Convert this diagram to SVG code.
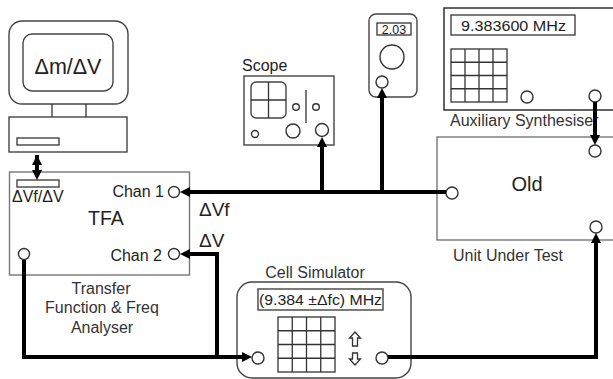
<svg xmlns="http://www.w3.org/2000/svg" width="613" height="379" viewBox="0 0 613 379">
<style>
text{font-family:"Liberation Sans",Arial,sans-serif;fill:#222}
.box{fill:#fff;stroke:#444;stroke-width:1.4}
.lbox{fill:#fff;stroke:#777;stroke-width:1.4}
.thin{fill:none;stroke:#333;stroke-width:1.3}
.port{fill:#fff;stroke:#333;stroke-width:1.4}
.wire{fill:none;stroke:#000;stroke-width:4;stroke-linejoin:miter}
.lbl{font-size:16px;fill:#333}
</style>
<defs>
<marker id="ah" viewBox="0 0 10 10" refX="0" refY="5" markerWidth="10" markerHeight="10" markerUnits="userSpaceOnUse" orient="auto">
<path d="M0,0 L10,5 L0,10 z" fill="#000"/>
</marker>
<marker id="ahs" viewBox="0 0 10 10" refX="10" refY="5" markerWidth="10" markerHeight="10" markerUnits="userSpaceOnUse" orient="auto-start-reverse">
<path d="M0,0 L10,5 L0,10 z" fill="#000"/>
</marker>
</defs>

<g id="computer">
<rect class="box" x="9" y="21" width="119" height="83" rx="13"/>
<rect class="box" x="23" y="34" width="90" height="57" rx="9"/>
<text x="68" y="74" font-size="21.5" text-anchor="middle">Δm/ΔV</text>
<line class="thin" x1="52" y1="104" x2="52" y2="117"/>
<line class="thin" x1="86" y1="104" x2="86" y2="117"/>
<rect class="box" x="9" y="117" width="118" height="35"/>
<rect class="box" x="17" y="138" width="42" height="7"/>
</g>

<g id="tfa">
<rect class="lbox" x="9.5" y="172" width="180" height="103"/>
<rect class="box" x="17" y="180" width="42" height="7"/>
<text x="12" y="202" font-size="16">ΔVf/ΔV</text>
<text x="164" y="197" font-size="16" text-anchor="end">Chan 1</text>
<circle class="port" cx="174" cy="192" r="5.5"/>
<text x="88" y="225" font-size="19.5">TFA</text>
<text x="162" y="261" font-size="16" text-anchor="end">Chan 2</text>
<circle class="port" cx="174" cy="254" r="5.5"/>
<circle class="port" cx="24" cy="254" r="5.5"/>
<text class="lbl" x="101" y="294" text-anchor="middle">Transfer</text>
<text class="lbl" x="102" y="313" text-anchor="middle">Function &amp; Freq</text>
<text class="lbl" x="102" y="333" text-anchor="middle">Analyser</text>
</g>

<g id="scope">
<text x="242" y="71" font-size="16">Scope</text>
<rect class="box" x="244" y="76" width="90" height="69"/>
<rect class="box" x="251" y="82" width="35" height="36" rx="5"/>
<line class="thin" x1="268.5" y1="82" x2="268.5" y2="118"/>
<line class="thin" x1="251" y1="100" x2="286" y2="100"/>
<circle class="port" cx="296" cy="107" r="3.3"/>
<circle class="port" cx="316" cy="107" r="3.3"/>
<line class="thin" x1="306" y1="90" x2="306" y2="123"/>
<circle class="port" cx="255" cy="134" r="3.5"/>
<circle class="port" cx="293" cy="131" r="7"/>
<circle class="port" cx="322" cy="130" r="6.5"/>
</g>

<g id="meter">
<rect class="box" x="369" y="14" width="48" height="83" rx="7"/>
<rect class="box" x="377" y="23" width="34" height="12"/>
<text x="394" y="33.5" font-size="12.5" text-anchor="middle">2.03</text>
<circle class="port" cx="392" cy="57" r="12"/>
<circle class="port" cx="382" cy="82" r="6"/>
</g>

<g id="synth">
<rect class="box" x="444" y="8" width="180" height="102" style="stroke:#222"/>
<rect class="box" x="451" y="15" width="124" height="20"/>
<text x="461" y="31" font-size="15" textLength="105" lengthAdjust="spacingAndGlyphs">9.383600 MHz</text>
<g class="thin">
<rect x="451" y="49" width="56" height="53"/>
<line x1="465" y1="49" x2="465" y2="102"/><line x1="479" y1="49" x2="479" y2="102"/><line x1="493" y1="49" x2="493" y2="102"/>
<line x1="451" y1="62.25" x2="507" y2="62.25"/><line x1="451" y1="75.5" x2="507" y2="75.5"/><line x1="451" y1="88.75" x2="507" y2="88.75"/>
</g>
<circle class="port" cx="527" cy="97" r="6"/>
<circle class="port" cx="595" cy="96" r="6"/>
<text class="lbl" x="450" y="126">Auxiliary Synthesiser</text>
</g>

<g id="uut">
<rect class="lbox" x="437" y="137" width="190" height="103"/>
<text x="527" y="191" font-size="20" text-anchor="middle">Old</text>
<circle class="port" cx="452" cy="193" r="6"/>
<circle class="port" cx="595" cy="151" r="6"/>
<circle class="port" cx="596" cy="227" r="6"/>
<text class="lbl" x="453" y="261">Unit Under Test</text>
</g>

<g id="cellsim">
<text class="lbl" x="315" y="278" text-anchor="middle">Cell Simulator</text>
<rect class="box" x="237" y="282" width="174" height="96" rx="15"/>
<rect class="box" x="258" y="289" width="125" height="21"/>
<text x="259" y="305" font-size="15" textLength="123" lengthAdjust="spacingAndGlyphs">(9.384 ±Δfc) MHz</text>
<g class="thin">
<rect x="278" y="317" width="57" height="55"/>
<line x1="292.25" y1="317" x2="292.25" y2="372"/><line x1="306.5" y1="317" x2="306.5" y2="372"/><line x1="320.75" y1="317" x2="320.75" y2="372"/>
<line x1="278" y1="330.75" x2="335" y2="330.75"/><line x1="278" y1="344.5" x2="335" y2="344.5"/><line x1="278" y1="358.25" x2="335" y2="358.25"/>
</g>
<polygon class="thin" points="355,332 349.5,338 352.5,338 352.5,346 357.5,346 357.5,338 360.5,338"/>
<polygon class="thin" points="355,365 349.5,359 352.5,359 352.5,353 357.5,353 357.5,359 360.5,359"/>
<circle class="port" cx="258" cy="358" r="6"/>
<circle class="port" cx="382" cy="358" r="6"/>
</g>

<g id="connectors">
<path class="wire" d="M37,155 L37,170" marker-start="url(#ahs)" marker-end="url(#ah)"/>
<path class="wire" d="M446,192 L190,192" marker-end="url(#ah)"/>
<path class="wire" d="M322,194 L322,147" marker-end="url(#ah)"/>
<path class="wire" d="M382,194 L382,98" marker-end="url(#ah)"/>
<path class="wire" d="M217,357 L217,254 L190,254" marker-end="url(#ah)"/>
<path class="wire" d="M24,260 L24,357 L242,357" marker-end="url(#ah)"/>
<path class="wire" d="M388,357 L596,357 L596,243" marker-end="url(#ah)"/>
<path class="wire" d="M595,102 L595,135" marker-end="url(#ah)"/>
<text x="199" y="216" font-size="19">ΔVf</text>
<text x="199" y="247" font-size="19">ΔV</text>
</g>
</svg>
